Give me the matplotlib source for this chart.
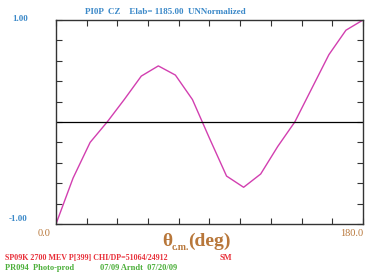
import matplotlib
matplotlib.use("Agg")
import matplotlib.pyplot as plt
import numpy as np

# data
theta = [0, 10, 20, 30, 40, 50, 60, 70, 80, 90, 100, 110, 120, 130, 140, 150, 160, 170, 180]
cz = [-1.00, -0.55, -0.20, 0.00, 0.22, 0.45, 0.55, 0.46, 0.22, -0.16, -0.53, -0.64,
      -0.51, -0.24, 0.00, 0.33, 0.66, 0.90, 1.00]
xticks = np.arange(0, 181, 18)
yticks = np.arange(-1.0, 1.01, 0.2)

plt.rcParams['font.family'] = ['Liberation Serif', 'DejaVu Serif']

fig = plt.figure(figsize=(3.74, 2.77), dpi=100)
ax = fig.add_axes([56/374, 1-224/277, 307/374, 204/277])
ax.plot(theta, cz, color='#d23fb0', lw=1.0)
ax.axhline(0, color='black', lw=0.9)
ax.set_xlim(0, 180)
ax.set_ylim(-1, 1)
ax.set_xticks(xticks)
ax.set_yticks(yticks)
ax.tick_params(direction='in', length=4, width=0.8, top=True, right=True,
               labelbottom=False, labelleft=False, colors='#333333')
for s in ax.spines.values():
    s.set_linewidth(1.0)
    s.set_color('#333333')

blue = '#3a88c8'
brown = '#b8773a'
fig.text(165/374, 1-12/277, 'PI0P  CZ    Elab= 1185.00  UNNormalized', color=blue,
         fontsize=6.5, fontweight='bold', ha='center', va='center')
fig.text(20/374, 1-19/277, '1.00', color=blue, fontsize=6.5, fontweight='bold', ha='center', va='center')
fig.text(18/374, 1-219/277, '-1.00', color=blue, fontsize=6.5, fontweight='bold', ha='center', va='center')
fig.text(44/374, 1-233/277, '0.0', color=brown, fontsize=7.5, ha='center', va='center')
fig.text(352/374, 1-233/277, '180.0', color=brown, fontsize=7.5, ha='center', va='center')
# x-axis label: theta, subscript c.m., (deg)
fig.text(172/374, 1-241/277, 'θ', color=brown, fontsize=14, fontweight='bold',
         ha='right', va='center')
fig.text(172/374, 1-247/277, 'c.m.', color=brown, fontsize=7, fontweight='bold',
         ha='left', va='center')
fig.text(188/374, 1-241/277, '(deg)', color=brown, fontsize=14, fontweight='bold',
         ha='left', va='center')
red = '#e8303a'
green = '#4caf3a'
fig.text(5/374, 1-258/277, 'SP09K 2700 MEV P[399] CHI/DP=51064/24912', color=red,
         fontsize=5.8, fontweight='bold', ha='left', va='center')
fig.text(220/374, 1-258/277, 'SM', color=red, fontsize=6, fontweight='bold', ha='left', va='center')
fig.text(5/374, 1-268/277, 'PR094  Photo-prod', color=green, fontsize=6, fontweight='bold',
         ha='left', va='center')
fig.text(100/374, 1-268/277, '07/09 Arndt  07/20/09', color=green, fontsize=6, fontweight='bold',
         ha='left', va='center')

fig.savefig('out.png', dpi=100)
